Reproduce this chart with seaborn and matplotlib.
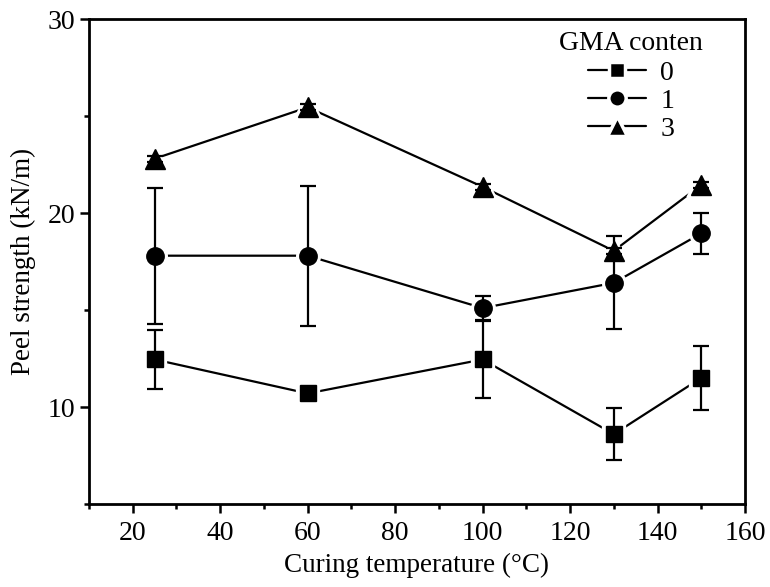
import matplotlib
matplotlib.use("Agg")
import matplotlib.pyplot as plt
import seaborn as sns
import pandas as pd
import numpy as np
from matplotlib.ticker import MultipleLocator
from matplotlib.lines import Line2D

temps = [25, 60, 100, 130, 150]
gma0 = [12.45, 10.7, 12.45, 8.6, 11.5]
gma0_err = [1.5, 0.3, 2.0, 1.35, 1.65]
gma1 = [17.8, 17.8, 15.1, 16.4, 18.95]
gma1_err = [3.5, 3.6, 0.6, 2.4, 1.05]
gma3 = [22.8, 25.45, 21.35, 18.05, 21.45]
gma3_err = [0.15, 0.15, 0.15, 0.15, 0.15]
groups = ["0", "1", "3"]
markers = {"0": "s", "1": "o", "3": "^"}
msizes = {"0": 11, "1": 12.5, "3": 14}

rows = []
for g, ys, es in zip(groups, [gma0, gma1, gma3], [gma0_err, gma1_err, gma3_err]):
    for t, y, e in zip(temps, ys, es):
        rows.append({"T": t, "P": y, "err": e, "GMA": g})
df = pd.DataFrame(rows)

sns.set_style("ticks")
plt.rcParams['font.family'] = ['Liberation Serif', 'DejaVu Serif']
plt.rcParams.update({"text.color": "black", "axes.labelcolor": "black",
                     "xtick.color": "black", "ytick.color": "black",
                     "axes.edgecolor": "black"})

fig, ax = plt.subplots(figsize=(7.7, 5.87), dpi=100)
fig.subplots_adjust(left=0.1156, right=0.9675, top=0.9676, bottom=0.1414)

# connecting lines with Origin-style gaps (white-edged markers underneath)
sns.lineplot(data=df, x="T", y="P", hue="GMA", style="GMA", markers=markers,
             dashes=False, palette=["black"] * 3, ax=ax, linewidth=1.6,
             markersize=12, markeredgecolor="white", markeredgewidth=6,
             legend=False, zorder=2)

for g, m in markers.items():
    sub = df[df.GMA == g]
    ax.errorbar(sub["T"], sub["P"], yerr=sub["err"], fmt="none", ecolor="black",
                elinewidth=1.6, capsize=6, capthick=1.6, zorder=3)
    ax.plot(sub["T"], sub["P"], linestyle="none", marker=m, color="black",
            markersize=msizes[g], zorder=4)

handles = [Line2D([], [], color="black", lw=1.6, marker=markers[g],
                  markersize=msizes[g], markeredgecolor="white",
                  markeredgewidth=2.5, markerfacecolor="black")
           for g in groups]
leg = ax.legend(handles, groups, title="GMA conten", frameon=False, loc="upper right",
                bbox_to_anchor=(0.968, 1.018), fontsize=20, title_fontsize=20,
                handlelength=2.1, handletextpad=0.5, labelspacing=0.1,
                borderaxespad=0.35)
leg._legend_box.sep = 3

ax.set_xlim(10, 160)
ax.set_ylim(5, 30)
ax.xaxis.set_major_locator(MultipleLocator(20))
ax.xaxis.set_minor_locator(MultipleLocator(10))
ax.yaxis.set_major_locator(MultipleLocator(10))
ax.yaxis.set_minor_locator(MultipleLocator(5))
ax.tick_params(which="major", direction="out", length=6.5, width=1.8, labelsize=20)
ax.tick_params(which="minor", direction="out", length=3.5, width=1.8)
ax.tick_params(axis="x", which="major", pad=6)
for s in ax.spines.values():
    s.set_linewidth(2)
    s.set_visible(True)
ax.set_xlabel("Curing temperature (°C)", fontsize=19.5, labelpad=5)
ax.set_ylabel("Peel strength (kN/m)", fontsize=19.5, labelpad=8)

fig.savefig("out.png", dpi=100)
